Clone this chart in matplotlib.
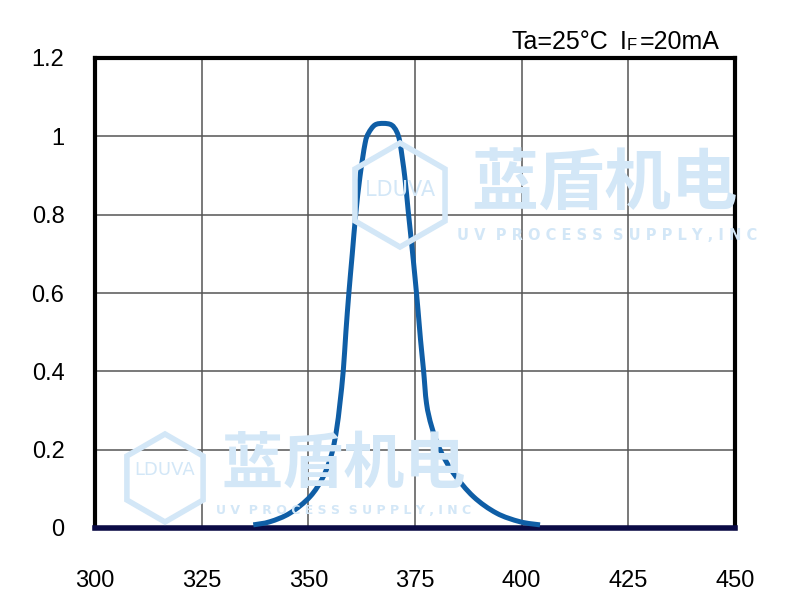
import matplotlib
matplotlib.use("Agg")
import matplotlib.pyplot as plt
from matplotlib import font_manager
from matplotlib.path import Path
from matplotlib.patches import PathPatch, RegularPolygon
from matplotlib.transforms import IdentityTransform

# spectrum
wavelength = [337.1, 341.0, 345.7, 350.4, 353.5, 355.5, 356.6, 357.4, 358.2, 358.8,
              359.5, 360.3, 361.1, 362.1, 363.3, 364.1, 365.6, 367.6, 369.5, 370.7,
              371.5, 372.6, 373.4, 374.2, 375.0, 375.7, 376.3, 377.0, 377.7, 378.9,
              380.9, 384.0, 388.7, 394.1, 399.6, 404.3]
intensity = [0.008, 0.016, 0.038, 0.080, 0.131, 0.190, 0.250, 0.318, 0.403, 0.500,
             0.600, 0.700, 0.800, 0.897, 0.982, 1.008, 1.029, 1.033, 1.029, 1.012,
             0.982, 0.897, 0.810, 0.727, 0.640, 0.557, 0.480, 0.403, 0.318, 0.259,
             0.199, 0.140, 0.080, 0.038, 0.016, 0.008]

x_ticks = [300, 325, 350, 375, 400, 425, 450]
y_ticks = [0, 0.2, 0.4, 0.6, 0.8, 1.0, 1.2]
y_labels = ["0", "0.2", "0.4", "0.6", "0.8", "1", "1.2"]

names = {f.name for f in font_manager.fontManager.ttflist}
tick_font = "Liberation Sans Narrow" if "Liberation Sans Narrow" in names else "Liberation Sans"


def smooth_path(xs, ys):
    # catmull-rom through the read points, drawn as cubic beziers
    pts = list(zip(xs, ys))
    verts = [pts[0]]
    codes = [Path.MOVETO]
    for i in range(len(pts) - 1):
        p0 = pts[max(i - 1, 0)]
        p1 = pts[i]
        p2 = pts[i + 1]
        p3 = pts[min(i + 2, len(pts) - 1)]
        c1 = (p1[0] + (p2[0] - p0[0]) / 6, p1[1] + (p2[1] - p0[1]) / 6)
        c2 = (p2[0] - (p3[0] - p1[0]) / 6, p2[1] - (p3[1] - p1[1]) / 6)
        verts += [c1, c2, p2]
        codes += [Path.CURVE4] * 3
    return Path(verts, codes)


fig = plt.figure(figsize=(7.9, 6.05), dpi=100)
ax = fig.add_axes([95 / 790, 1 - 528 / 605, 640 / 790, 470 / 605])

ax.add_patch(PathPatch(smooth_path(wavelength, intensity), fill=False,
                       edgecolor="#0f5ea6", lw=3.6, capstyle="butt",
                       joinstyle="round", zorder=4))

ax.set_xlim(300, 450)
ax.set_ylim(0, 1.2)
ax.set_xticks(x_ticks)
ax.set_yticks(y_ticks)
ax.set_xticklabels([str(t) for t in x_ticks], fontsize=17, fontfamily=tick_font)
ax.set_yticklabels(y_labels, fontsize=17, fontfamily=tick_font)
ax.tick_params(axis="x", length=0, pad=30)
ax.tick_params(axis="y", length=0, pad=22)
ax.grid(True, color="#555555", lw=1.1, zorder=1)

for side in ["left", "top", "right"]:
    ax.spines[side].set_linewidth(3)
    ax.spines[side].set_color("black")
ax.spines["bottom"].set_linewidth(4)
ax.spines["bottom"].set_color("#0b0b45")

# watermarks
wm = "#d3e7f7"
cjk = ["Noto Sans CJK SC", "DejaVu Sans"]
fig.text(604 / 790, 1 - 185 / 605, "蓝盾机电", fontsize=48, color=wm, family=cjk,
         fontweight="bold", ha="center", va="center", zorder=0)
fig.text(607 / 790, 1 - 236 / 605, "U V  P R O C E S S  S U P P L Y , I N C", fontsize=10.5,
         color=wm, family="DejaVu Sans", fontweight="bold", ha="center", va="center")
fig.text(400 / 790, 1 - 190 / 605, "LDUVA", fontsize=15, color=wm,
         family="DejaVu Sans", ha="center", va="center")
fig.text(344 / 790, 1 - 465 / 605, "蓝盾机电", fontsize=44, color=wm, family=cjk,
         fontweight="bold", ha="center", va="center")
fig.text(344 / 790, 1 - 510 / 605, "U V  P R O C E S S  S U P P L Y , I N C", fontsize=9,
         color=wm, family="DejaVu Sans", fontweight="bold", ha="center", va="center")
fig.text(165 / 790, 1 - 470 / 605, "LDUVA", fontsize=13, color=wm,
         family="DejaVu Sans", ha="center", va="center")
for cx, cy, r in [(400, 605 - 195, 52), (165, 605 - 478, 44)]:
    fig.patches.append(RegularPolygon((cx, cy), 6, radius=r, fill=False,
                                      edgecolor=wm, lw=4, transform=IdentityTransform(),
                                      figure=fig, zorder=0))

# condition label
fig.text(512 / 790, 1 - 42 / 605, "Ta=25°C", fontsize=18, family="Liberation Sans",
         ha="left", va="center")
fig.text(620 / 790, 1 - 42 / 605, "I", fontsize=18, family="Liberation Sans",
         ha="left", va="center")
fig.text(627 / 790, 1 - 45 / 605, "F", fontsize=12, family="Liberation Sans",
         ha="left", va="center")
fig.text(640 / 790, 1 - 42 / 605, "=20mA", fontsize=18, family="Liberation Sans",
         ha="left", va="center")

fig.savefig("out.png", dpi=100)
